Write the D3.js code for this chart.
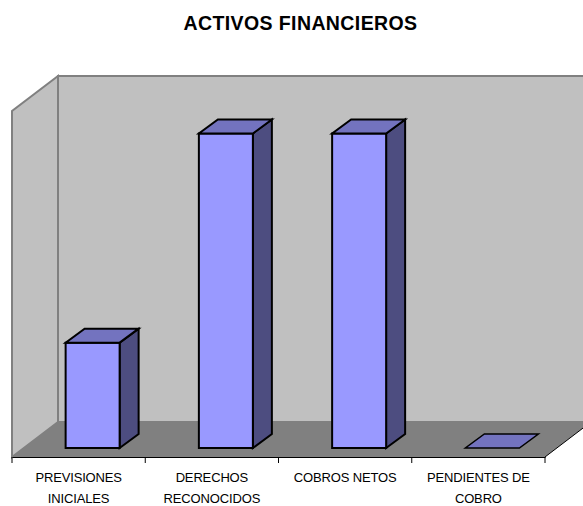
<!DOCTYPE html>
<html>
<head>
<meta charset="utf-8">
<script src="https://d3js.org/d3.v7.min.js"></script>
<style>
  html, body { margin: 0; padding: 0; background: #fff; overflow: hidden; }
  text { font-family: "Liberation Sans", Arial, sans-serif; fill: #000; }
</style>
</head>
<body>
<div id="chart"></div>
<script>
const categories = ["PREVISIONES INICIALES", "DERECHOS RECONOCIDOS", "COBROS NETOS", "PENDIENTES DE COBRO"];
const labelLines = [["PREVISIONES", "INICIALES"], ["DERECHOS", "RECONOCIDOS"], ["COBROS NETOS"], ["PENDIENTES DE", "COBRO"]];
const values = [33.5, 100, 100, 0];

const width = 583, height = 506;
const floorY = 457, wallTop = 111;
const left = 12, right = 545;
const depthX = 46, depthY = 35; // full depth of the 3d box
const barDepthX = 19, barDepthY = 14;
const barOffsetX = 14, barOffsetY = 9; // bars stand a little in from the front edge of the floor

const svg = d3.select("#chart").append("svg").attr("width", width).attr("height", height);

var x = d3.scaleBand().domain(categories).range([left, right]);
var y = d3.scaleLinear().domain([0, 110]).range([floorY, wallTop]);

function poly(points, fill, stroke, sw) {
  return svg.append("polygon")
    .attr("points", points.map((p) => p.join(",")).join(" "))
    .attr("fill", fill)
    .attr("stroke", stroke)
    .attr("stroke-width", sw)
    .attr("stroke-linejoin", "miter");
}

/* ------- WALLS AND FLOOR -------*/
poly([[left, floorY], [left + depthX, floorY - depthY], [left + depthX, wallTop - depthY], [left, wallTop]], "#c0c0c0", "#808080", 2);
poly([[left + depthX, floorY - depthY], [right + depthX, floorY - depthY], [right + depthX, wallTop - depthY], [left + depthX, wallTop - depthY]], "#c0c0c0", "#808080", 2);
poly([[left, floorY], [right, floorY], [right + depthX, floorY - depthY], [left + depthX, floorY - depthY]], "#808080", "none", 0);

svg.append("line")
  .attr("x1", right).attr("y1", floorY)
  .attr("x2", right + depthX).attr("y2", floorY - depthY)
  .attr("stroke", "#000");

/* ------- BARS -------*/
const barWidth = 54;
categories.forEach(function (c, i) {
  const x0 = x(c) + x.bandwidth() / 2 - barWidth / 2 + barOffsetX;
  const x1 = x0 + barWidth;
  const base = y(0) - barOffsetY;
  const top = y(values[i]) - barOffsetY;
  const dx = barDepthX, dy = barDepthY;
  if (values[i] > 0) {
    poly([[x1, base], [x1 + dx, base - dy], [x1 + dx, top - dy], [x1, top]], "#4d4d80", "#000", 2);
    poly([[x0, base], [x1, base], [x1, top], [x0, top]], "#9999ff", "#000", 2);
  }
  poly([[x0, top], [x1, top], [x1 + dx, top - dy], [x0 + dx, top - dy]], "#7373bf", "#000", values[i] > 0 ? 2 : 1.5);
});

/* ------- AXIS -------*/
const axis = svg.append("g")
  .attr("transform", "translate(0," + floorY + ")")
  .call(d3.axisBottom(x).tickSize(0).tickFormat(""));
axis.select(".domain").attr("stroke", "#000");
axis.selectAll(".tick").remove();

const edges = categories.map((c) => x(c)).concat([right]);
svg.selectAll("line.tick-mark")
  .data(edges)
  .enter()
  .append("line")
  .attr("class", "tick-mark")
  .attr("x1", (d) => d).attr("x2", (d) => d)
  .attr("y1", floorY).attr("y2", floorY + 6)
  .attr("stroke", "#000");

categories.forEach(function (c, i) {
  svg.append("text")
    .attr("text-anchor", "middle")
    .attr("font-size", 13)
    .attr("letter-spacing", -0.15)
    .selectAll("tspan")
    .data(labelLines[i])
    .enter()
    .append("tspan")
    .attr("x", x(c) + x.bandwidth() / 2)
    .attr("y", (d, j) => 482 + j * 21)
    .text((d) => d);
});

/* ------- TITLE -------*/
svg.append("text")
  .attr("x", 300.5)
  .attr("y", 29.5)
  .attr("text-anchor", "middle")
  .attr("font-size", 19.5)
  .attr("font-weight", "bold")
  .attr("letter-spacing", 0.4)
  .text("ACTIVOS FINANCIEROS");
</script>
</body>
</html>
